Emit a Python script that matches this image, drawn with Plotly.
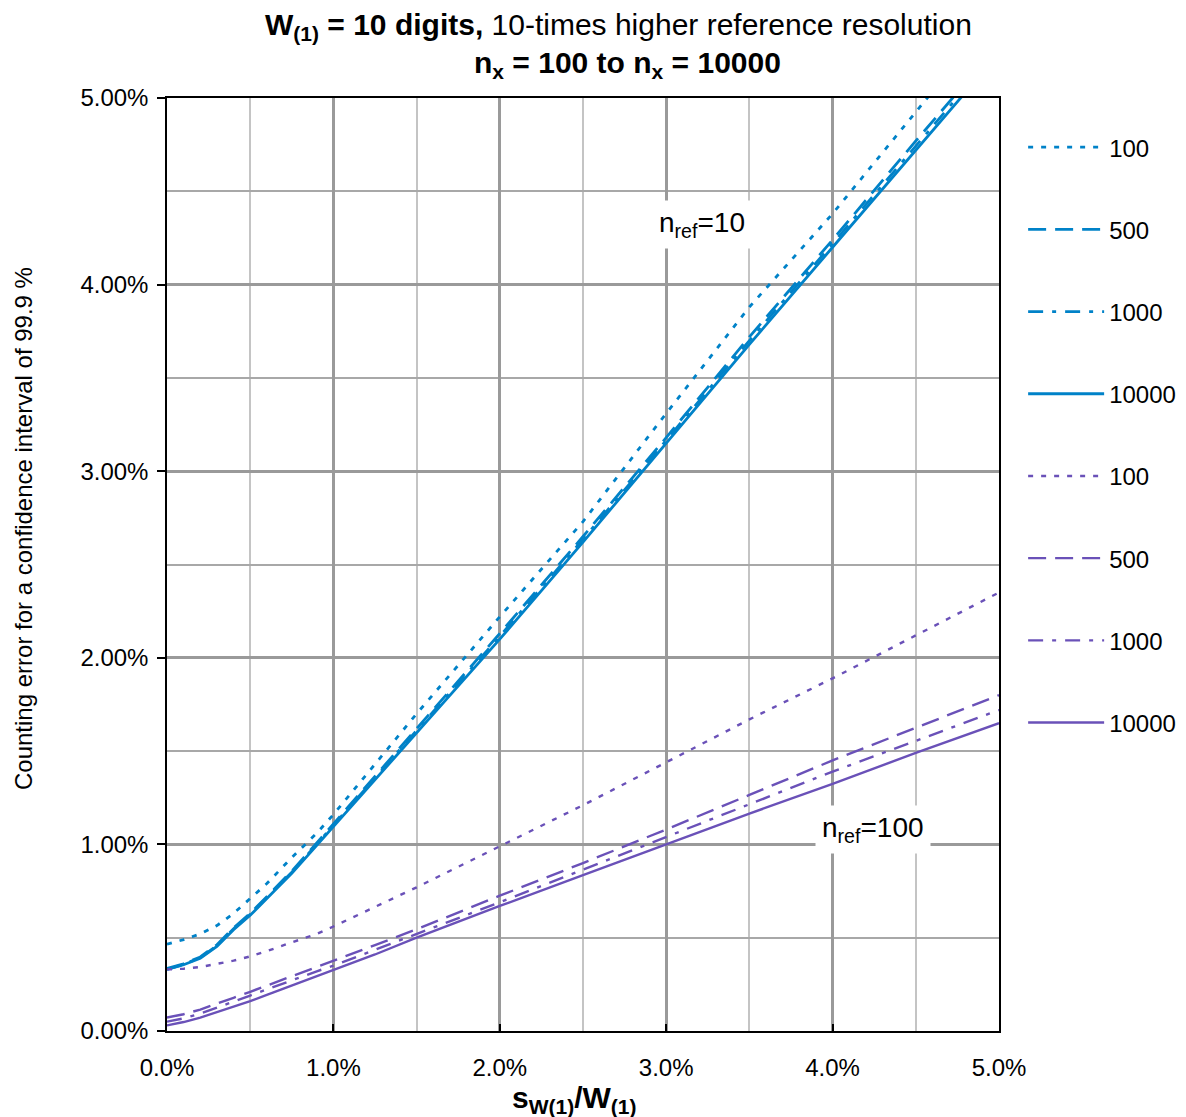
import plotly.graph_objects as go

# x: s_W(1)/W(1) in percent
x_pct = [0.0, 0.1, 0.2, 0.3, 0.4, 0.5, 0.6, 0.75, 0.9, 1.0, 1.25, 1.5, 2.0, 2.5, 3.0, 3.5, 4.0, 4.5, 5.0]

# n_ref = 10 (blue), counting error in percent
blue_100 = [0.465, 0.49, 0.52, 0.565, 0.63, 0.71, 0.79, 0.93, 1.06, 1.16, 1.43, 1.70, 2.22, 2.73, 3.31, 3.88, 4.38, 4.92, 5.47]
blue_500 = [0.335, 0.36, 0.397, 0.462, 0.553, 0.63, 0.72, 0.857, 1.008, 1.11, 1.37, 1.62, 2.13, 2.65, 3.18, 3.72, 4.24, 4.77, 5.29]
blue_1000 = [0.33, 0.357, 0.393, 0.457, 0.548, 0.625, 0.715, 0.851, 1.001, 1.103, 1.36, 1.61, 2.115, 2.635, 3.165, 3.70, 4.22, 4.745, 5.265]
blue_10000 = [0.33, 0.355, 0.39, 0.453, 0.543, 0.62, 0.71, 0.845, 0.995, 1.095, 1.35, 1.60, 2.10, 2.62, 3.15, 3.68, 4.20, 4.72, 5.24]

# n_ref = 100 (purple)
purple_100 = [0.33, 0.334, 0.343, 0.358, 0.377, 0.40, 0.428, 0.475, 0.52, 0.56, 0.665, 0.77, 0.99, 1.21, 1.44, 1.67, 1.89, 2.12, 2.35]
purple_500 = [0.072, 0.09, 0.115, 0.145, 0.178, 0.21, 0.243, 0.295, 0.343, 0.375, 0.46, 0.545, 0.725, 0.90, 1.08, 1.265, 1.45, 1.625, 1.80]
purple_1000 = [0.05, 0.068, 0.093, 0.124, 0.157, 0.19, 0.223, 0.273, 0.32, 0.35, 0.435, 0.52, 0.69, 0.865, 1.04, 1.215, 1.39, 1.555, 1.72]
purple_10000 = [0.03, 0.048, 0.072, 0.10, 0.13, 0.16, 0.193, 0.243, 0.29, 0.325, 0.41, 0.50, 0.67, 0.835, 1.00, 1.165, 1.325, 1.49, 1.65]

legend_names = ["100", "500", "1000", "10000"]

BLUE = "#0082c8"
PURPLE = "#6a51b8"
FONT = "Liberation Sans, Arial, sans-serif"
FS = 24
TFS = 30

dashes = ["5px,8px", "18px,9px", "15px,9px,4px,9px", "solid"]

x = [v / 100 for v in x_pct]
fig = go.Figure()

series = [
    (blue_100, BLUE, 0), (blue_500, BLUE, 1), (blue_1000, BLUE, 2), (blue_10000, BLUE, 3),
    (purple_100, PURPLE, 0), (purple_500, PURPLE, 1), (purple_1000, PURPLE, 2), (purple_10000, PURPLE, 3),
]
for i, (vals, col, k) in enumerate(series):
    fig.add_trace(go.Scatter(
        x=x, y=[v / 100 for v in vals], mode="lines",
        name=legend_names[k], legendgroup="g%d" % i,
        line=dict(color=col, width=2.8 if col == BLUE else 2.4, dash=dashes[k]),
    ))

fig.update_layout(
    width=1186, height=1117,
    margin=dict(l=159, r=195, t=90, b=94),
    paper_bgcolor="white", plot_bgcolor="white",
    font=dict(family=FONT, size=FS, color="black"),
    showlegend=True,
    legend=dict(
        x=1.029, y=0.971, xanchor="left", yanchor="top",
        traceorder="grouped", tracegroupgap=48,
        font=dict(family=FONT, size=FS, color="black"),
        bgcolor="rgba(0,0,0,0)", itemwidth=76,
    ),
    xaxis=dict(
        range=[0, 0.05], tickvals=[0, 0.01, 0.02, 0.03, 0.04, 0.05], tickformat=".1%",
        showgrid=True, gridcolor="#9a9a9a", gridwidth=2.5,
        minor=dict(tickvals=[0.005, 0.015, 0.025, 0.035, 0.045], showgrid=True,
                   gridcolor="#c4c4c4", gridwidth=1.5, ticks=""),
        showline=True, linecolor="black", linewidth=1.5, mirror=True,
        ticks="inside", ticklen=7, tickcolor="black", tickwidth=1.5,
        ticklabelstandoff=14, zeroline=False,
    ),
    yaxis=dict(
        range=[0, 0.05], tickvals=[0, 0.01, 0.02, 0.03, 0.04, 0.05], tickformat=".2%",
        showgrid=True, gridcolor="#9a9a9a", gridwidth=2.5,
        minor=dict(tickvals=[0.005, 0.015, 0.025, 0.035, 0.045], showgrid=True,
                   gridcolor="#a8a8a8", gridwidth=1.5, ticks=""),
        showline=True, linecolor="black", linewidth=1.5, mirror=True,
        ticks="outside", ticklen=8, tickcolor="black", tickwidth=1.5,
        ticklabelstandoff=4, zeroline=False,
    ),
    annotations=[
        dict(text="<b>W<sub>(1)</sub> = 10 digits,</b> 10-times higher reference resolution",
             xref="paper", yref="paper", x=(617 - 166) / 832, y=(1030 - 25) / 933,
             xanchor="center", yanchor="middle", showarrow=False,
             font=dict(family=FONT, size=TFS)),
        dict(text="<b>n<sub>x</sub> = 100 to n<sub>x</sub> = 10000</b>",
             xref="paper", yref="paper", x=(626 - 166) / 832, y=(1030 - 63) / 933,
             xanchor="center", yanchor="middle", showarrow=False,
             font=dict(family=FONT, size=TFS)),
        dict(text="<b>s<sub>W(1)</sub>/W<sub>(1)</sub></b>",
             xref="paper", yref="paper", x=(573 - 166) / 832, y=(1030 - 1098) / 933,
             xanchor="center", yanchor="middle", showarrow=False,
             font=dict(family=FONT, size=TFS)),
        dict(text="Counting error for a confidence interval of 99.9 %",
             xref="paper", yref="paper", x=(22 - 166) / 832, y=(1030 - 528) / 933,
             xanchor="center", yanchor="middle", textangle=-90, showarrow=False,
             font=dict(family=FONT, size=FS)),
        dict(text="n<sub>ref</sub>=10", x=0.03215, y=0.0432, xref="x", yref="y",
             showarrow=False, bgcolor="white", borderpad=6,
             font=dict(family=FONT, size=28)),
        dict(text="n<sub>ref</sub>=100", x=0.0424, y=0.0108, xref="x", yref="y",
             showarrow=False, bgcolor="white", borderpad=6,
             font=dict(family=FONT, size=28)),
    ],
)

fig.write_html("out.html")
